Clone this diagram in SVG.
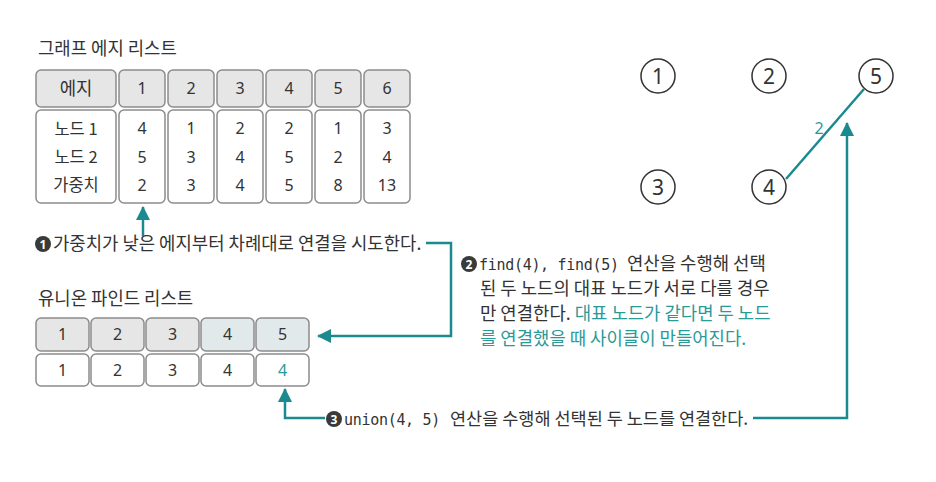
<svg xmlns="http://www.w3.org/2000/svg" width="936" height="482" viewBox="0 0 936 482">
<defs>
<style>
.t{font-family:"Noto Sans CJK KR","Noto Sans",sans-serif;fill:#333;font-size:17.8px}
.m{font-family:"DejaVu Sans Mono","Liberation Mono",monospace;fill:#333;font-size:15px;letter-spacing:-0.3px}
.c{text-anchor:middle}
.v{font-family:"Noto Sans","Noto Sans CJK KR",sans-serif;fill:#333;font-size:16px;text-anchor:middle}
.hd{fill:#e6e6e6;stroke:#8c8c8c;stroke-width:1.5}
.hd2{fill:#e2e9ea;stroke:#8c8c8c;stroke-width:1.5}
.bd{fill:#fff;stroke:#8c8c8c;stroke-width:1.5}
.teal{fill:#2a9a98}
.conn{fill:none;stroke:#1b8a8f;stroke-width:2.5}
.badge{fill:#3a3a3a}
.bn{font-family:"Noto Sans",sans-serif;font-weight:bold;font-size:12px;fill:#fff;text-anchor:middle}
.node{fill:#fff;stroke:#333;stroke-width:1.5}
.nl{font-family:"Noto Sans",sans-serif;font-size:21px;fill:#333;text-anchor:middle}
</style>
<marker id="ah" markerUnits="userSpaceOnUse" markerWidth="14" markerHeight="14" refX="13" refY="7" orient="auto">
<path d="M0,0 L14,7 L0,14 z" fill="#1b8a8f"/>
</marker>
</defs>

<g id="edge-list">
<text class="t" x="38" y="55">그래프 에지 리스트</text>
<rect class="hd" x="36" y="70" width="80" height="37" rx="5"/>
<text class="t c" x="76" y="95">에지</text>
<rect class="hd" x="119" y="70" width="46" height="37" rx="5"/><text class="v" x="142" y="94">1</text>
<rect class="hd" x="168" y="70" width="46" height="37" rx="5"/><text class="v" x="191" y="94">2</text>
<rect class="hd" x="217" y="70" width="46" height="37" rx="5"/><text class="v" x="240" y="94">3</text>
<rect class="hd" x="266" y="70" width="46" height="37" rx="5"/><text class="v" x="289" y="94">4</text>
<rect class="hd" x="315" y="70" width="46" height="37" rx="5"/><text class="v" x="338" y="94">5</text>
<rect class="hd" x="364" y="70" width="46" height="37" rx="5"/><text class="v" x="387" y="94">6</text>
<rect class="bd" x="36" y="110" width="80" height="93" rx="5"/>
<text class="t c" x="76" y="135" style="font-size:16.5px">노드 1</text>
<text class="t c" x="76" y="163" style="font-size:16.5px">노드 2</text>
<text class="t c" x="76" y="191" style="font-size:16.5px">가중치</text>
<rect class="bd" x="119" y="110" width="46" height="93" rx="5"/>
<text class="v" x="142" y="134">4</text><text class="v" x="142" y="163">5</text><text class="v" x="142" y="191">2</text>
<rect class="bd" x="168" y="110" width="46" height="93" rx="5"/>
<text class="v" x="191" y="134">1</text><text class="v" x="191" y="163">3</text><text class="v" x="191" y="191">3</text>
<rect class="bd" x="217" y="110" width="46" height="93" rx="5"/>
<text class="v" x="240" y="134">2</text><text class="v" x="240" y="163">4</text><text class="v" x="240" y="191">4</text>
<rect class="bd" x="266" y="110" width="46" height="93" rx="5"/>
<text class="v" x="289" y="134">2</text><text class="v" x="289" y="163">5</text><text class="v" x="289" y="191">5</text>
<rect class="bd" x="315" y="110" width="46" height="93" rx="5"/>
<text class="v" x="338" y="134">1</text><text class="v" x="338" y="163">2</text><text class="v" x="338" y="191">8</text>
<rect class="bd" x="364" y="110" width="46" height="93" rx="5"/>
<text class="v" x="387" y="134">3</text><text class="v" x="387" y="163">4</text><text class="v" x="387" y="191">13</text>
</g>

<g id="union-find-list">
<text class="t" x="38" y="305">유니온 파인드 리스트</text>
<rect class="hd" x="36" y="318" width="53" height="33" rx="5"/><text class="v" x="62.5" y="340">1</text>
<rect class="hd" x="91" y="318" width="53" height="33" rx="5"/><text class="v" x="117.5" y="340">2</text>
<rect class="hd" x="146" y="318" width="53" height="33" rx="5"/><text class="v" x="172.5" y="340">3</text>
<rect class="hd2" x="201" y="318" width="53" height="33" rx="5"/><text class="v" x="227.5" y="340">4</text>
<rect class="hd2" x="256" y="318" width="53" height="33" rx="5"/><text class="v" x="282.5" y="340">5</text>
<rect class="bd" x="36" y="354" width="53" height="32" rx="5"/><text class="v" x="62.5" y="376">1</text>
<rect class="bd" x="91" y="354" width="53" height="32" rx="5"/><text class="v" x="117.5" y="376">2</text>
<rect class="bd" x="146" y="354" width="53" height="32" rx="5"/><text class="v" x="172.5" y="376">3</text>
<rect class="bd" x="201" y="354" width="53" height="32" rx="5"/><text class="v" x="227.5" y="376">4</text>
<rect class="bd" x="256" y="354" width="53" height="32" rx="5"/><text class="v" x="282.5" y="376" style="fill:#2a9a98">4</text>
</g>

<g id="step1">
<circle class="badge" cx="43" cy="244" r="8"/><text class="bn" x="43" y="248.5">1</text>
<text class="t" x="53" y="250">가중치가 낮은 에지부터 차례대로 연결을 시도한다.</text>
</g>

<g id="step2">
<circle class="badge" cx="469" cy="264" r="8"/><text class="bn" x="469" y="268.5">2</text>
<text x="479" y="270"><tspan class="m">find(4), find(5)</tspan><tspan class="t" x="627">연산을 수행해 선택</tspan></text>
<text class="t" x="480" y="295">된 두 노드의 대표 노드가 서로 다를 경우</text>
<text class="t" x="480" y="320">만 연결한다. <tspan class="teal">대표 노드가 같다면 두 노드</tspan></text>
<text class="t teal" x="480" y="345">를 연결했을 때 사이클이 만들어진다.</text>
</g>

<g id="step3">
<circle class="badge" cx="334" cy="419" r="8"/><text class="bn" x="334" y="423.5">3</text>
<text x="344" y="425"><tspan class="m">union(4, 5)</tspan><tspan class="t" x="450" style="font-size:17.5px">연산을 수행해 선택된 두 노드를 연결한다.</tspan></text>
</g>

<g id="node1"><circle class="node" cx="658" cy="76" r="17"/><text class="nl" x="658" y="83.5">1</text></g>
<g id="node2"><circle class="node" cx="769" cy="76" r="17"/><text class="nl" x="769" y="83.5">2</text></g>
<g id="node5"><circle class="node" cx="876" cy="76" r="17"/><text class="nl" x="876" y="83.5">5</text></g>
<g id="node3"><circle class="node" cx="658" cy="187" r="17"/><text class="nl" x="658" y="194.5">3</text></g>
<g id="node4"><circle class="node" cx="769" cy="187" r="17"/><text class="nl" x="769" y="194.5">4</text></g>

<g id="connectors">
<line x1="786" y1="179" x2="864" y2="89" style="stroke:#1b8a8f;stroke-width:2.5"/>
<text x="819" y="134" style="font-family:'Noto Sans',sans-serif;font-size:16px;fill:#2a9a98;text-anchor:middle">2</text>
<path class="conn" d="M143,236 V207" marker-end="url(#ah)"/>
<path class="conn" d="M426,243 H451 V336 H318" marker-end="url(#ah)"/>
<path class="conn" d="M325,418 H285 V389" marker-end="url(#ah)"/>
<path class="conn" d="M753,418 H847 V123" marker-end="url(#ah)"/>
</g>
</svg>
